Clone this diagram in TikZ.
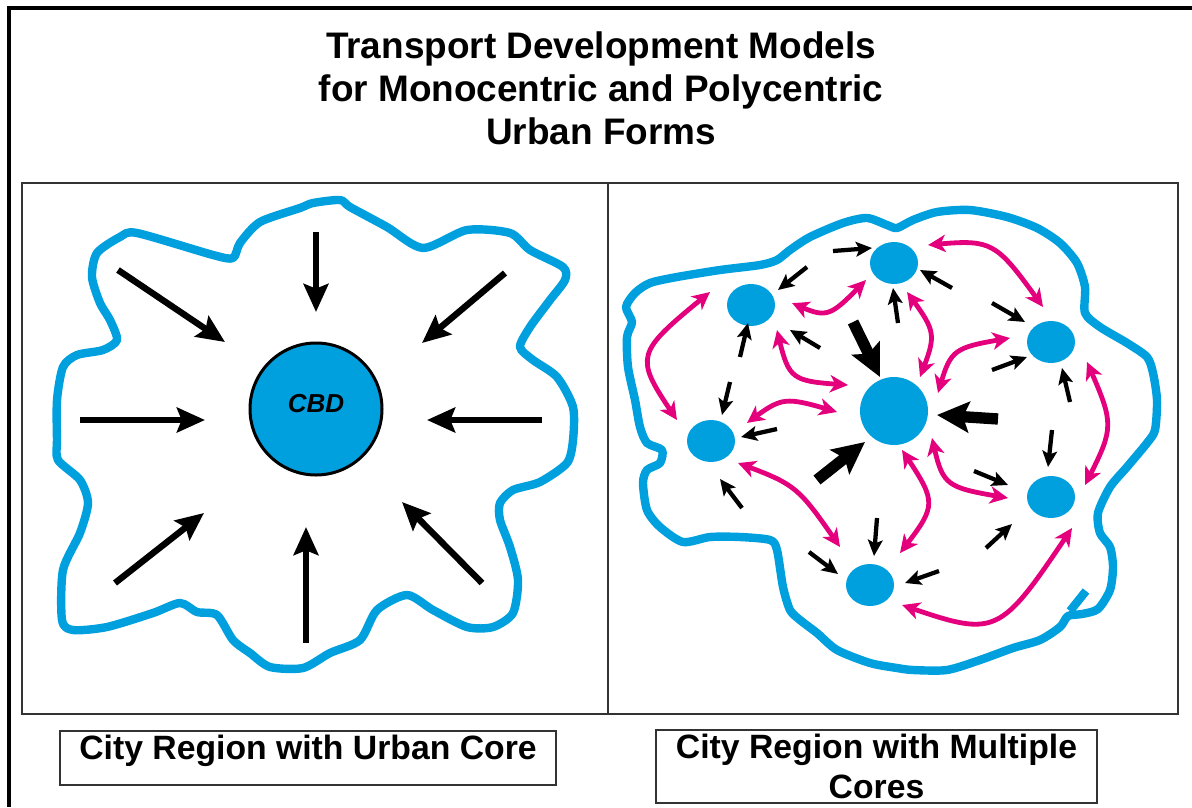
\documentclass[tikz,border=0pt]{standalone}
\usepackage{fontspec}
\setmainfont{Liberation Sans}
\usetikzlibrary{arrows.meta,bending,shapes.geometric}
\definecolor{cityblue}{RGB}{0,160,223}
\definecolor{linkmag}{RGB}{228,0,124}
\begin{document}
\begin{tikzpicture}[x=0.75pt,y=-0.75pt,
  outline/.style={draw=cityblue, line width=6.3pt, line join=round},
  panel/.style={draw=black!80, line width=1.5pt},
  frameline/.style={draw=black, line width=3pt},
  caption/.style={draw=black!80, line width=1.5pt, inner sep=0pt, font=\bfseries\fontsize{25.3}{30}\selectfont},
  core/.style={ellipse, fill=cityblue, minimum width=36pt, minimum height=31.5pt, inner sep=0pt},
  bigin/.style={draw=black, line width=4.8pt, -{Stealth[length=21pt,width=18.5pt,inset=3.5pt]}},
  smallin/.style={draw=black, line width=3.2pt, -{Stealth[length=12pt,width=11pt,inset=2.5pt]}},
  heavyin/.style={draw=black, line width=8.5pt, -{Stealth[length=24pt,width=23pt,inset=4.5pt]}},
  maglink/.style={draw=linkmag, line width=3.6pt, {Stealth[length=13.5pt,width=13pt,inset=4pt,bend]}-{Stealth[length=13.5pt,width=13pt,inset=4pt,bend]}}
]
\useasboundingbox (0,0) rectangle (1192,807);
\fill[white] (0,0) rectangle (1192,807);

% outer frame
\coordinate (frTL) at (8.5,8);
\coordinate (frTR) at (1192,8);
\coordinate (frBL) at (8.5,807);
\draw[frameline] (frTR) -- (frTL) -- (frBL);

% title
\node[font=\bfseries\fontsize{27.7}{32.25}\selectfont, align=center, inner sep=0pt] (title) at (601,88)
  {Transport Development Models\\for Monocentric and Polycentric\\Urban Forms};

% panels
\draw[panel] (22,183) rectangle (608,714);
\draw[panel] (608,183) rectangle (1178,714);

% ---------------- left panel ----------------
\draw[outline] plot[smooth cycle, tension=0.45] coordinates {
(300,208) (260,222) (240,243) (233,258) (213,255) (137,233) (120,237) (97,253) (92,277) (100,303)
(110,320) (117,340) (103,350) (77,355) (63,367) (57,400) (57,440) (58,460) (80,480) (88,503)
(80,533) (63,570) (62,620) (73,630) (107,627) (153,613) (180,603) (197,612) (217,615) (233,640)
(250,653) (270,667) (303,668) (330,653) (360,640) (377,610) (407,595) (433,610) (467,627) (493,627)
(513,613) (518,580) (510,547) (500,520) (500,503) (513,490) (540,482) (567,463) (573,440) (573,407)
(557,377) (533,360) (520,347) (530,327) (550,300) (565,280) (563,267) (530,250) (510,233) (467,230)
(423,248) (387,227) (350,207) (340,200) (313,203)};

\node[circle, fill=cityblue, draw=black, line width=2.25pt, minimum size=99pt, inner sep=0pt,
  text depth=8pt, font=\bfseries\itshape\fontsize{19.5}{22}\selectfont] (CBD) at (316,409) {CBD};

\foreach \n/\sx/\sy/\ex/\ey in {
  L1/316/232/316/312, L2/118/270/225/342, L3/505/273/422/343, L4/80/420/205/420,
  L5/542/420/427/420, L6/115/583/204/513, L7/306/643/306/527, L8/482/583/402/502}{
  \coordinate (\n-s) at (\sx,\sy);
  \coordinate (\n-e) at (\ex,\ey);
  \draw[bigin] (\n-s) -- (\n-e);
}

% ---------------- right panel ----------------
\draw[outline] plot[smooth cycle, tension=0.45] coordinates {
(650,283) (677,277) (720,270) (760,265) (777,260) (790,250) (810,237) (843,223) (867,218) (887,225)
(897,228) (913,220) (937,212) (970,210) (1007,217) (1037,228) (1060,243) (1077,263) (1085,287) (1085,313)
(1100,327) (1127,343) (1147,357) (1153,373) (1157,400) (1155,430) (1147,443) (1127,467) (1110,487) (1098,513)
(1100,533) (1110,547) (1113,567) (1110,590) (1098,609) (1082,614) (1068,616) (1060,627) (1040,640) (1013,648)
(980,660) (947,670) (913,670) (897,668) (870,663) (837,650) (817,633) (800,620) (790,610) (783,587)
(777,550) (770,540) (740,537) (710,537) (683,542) (660,527) (647,510) (643,483) (647,470) (660,463)
(662,450) (647,443) (640,427) (635,400) (628,367) (627,337) (632,322) (626,307) (635,293)};
\coordinate (stubA) at (1070,611);
\coordinate (stubB) at (1086,591);
\draw[outline, line cap=butt] (stubA) -- (stubB);

\node[core] (N1) at (894,263) {};
\node[core] (N2) at (751,305) {};
\node[core] (N3) at (1051,342) {};
\node[core] (N4) at (711,441) {};
\node[core] (N5) at (1051,497) {};
\node[core] (N6) at (870,585) {};
\node[circle, fill=cityblue, minimum size=51pt, inner sep=0pt] (C) at (894,411) {};

% magenta two-way links
\foreach \n/\ax/\ay/\px/\py/\bx/\by in {
  m1/710/292/633/355/677/420,
  m2/792/303/828/319/866/280,
  m3/777/330/789/381/848/385,
  m4/747/423/783/396/837/412,
  m5/928/245/994/239/1043/307,
  m6/907/292/937/333/920/377,
  m7/1010/338/951/348/938/393,
  m8/1087/362/1115/426/1085/485,
  m9/932/438/943/487/1008/498,
  m10/902/450/938/504/900/553,
  m11/902/605/998/638/1072/528,
  m12/738/463/797/485/840/547}{
  \coordinate (\n-a) at (\ax,\ay);
  \coordinate (\n-b) at (\bx,\by);
  \draw[maglink] (\n-a) .. controls (\px,\py) .. (\n-b);
}

% small black arrows
\foreach \n/\sx/\sy/\ex/\ey in {
  a1/833/251/872/248, a2/807/267/778/290, a3/898/323/893/288, a5/820/348/790/330,
  a6/740/357/748/323, a7/730/382/722/415, a8/777/429/741/437, a9/952/288/920/270,
  a11/992/303/1025/322, a12/992/370/1027/357, a14/1070/402/1062/368, a16/742/508/720/479,
  a17/877/518/874/556, a18/809/552/838/574, a19/1052/430/1048/467, a20/974/471/1008/485,
  a21/986/548/1012/524, a22/939/571/905/583}{
  \coordinate (\n-s) at (\sx,\sy);
  \coordinate (\n-e) at (\ex,\ey);
  \draw[smallin] (\n-s) -- (\n-e);
}
% heavy arrows to the main centre
\foreach \n/\sx/\sy/\ex/\ey in {
  a4/853/322/880/377, a13/998/419/937/415, a15/817/480/865/442}{
  \coordinate (\n-s) at (\sx,\sy);
  \coordinate (\n-e) at (\ex,\ey);
  \draw[heavyin] (\n-s) -- (\n-e);
}

% captions
\node[caption, text height=21pt, text depth=19.5pt, minimum width=372pt] (capL) at (308,758)
  {City Region with Urban Core};
\node[caption, align=center, minimum width=330.75pt, minimum height=54.75pt] (capR) at (876.5,766.5)
  {City Region with Multiple\\Cores};
\end{tikzpicture}
\end{document}
